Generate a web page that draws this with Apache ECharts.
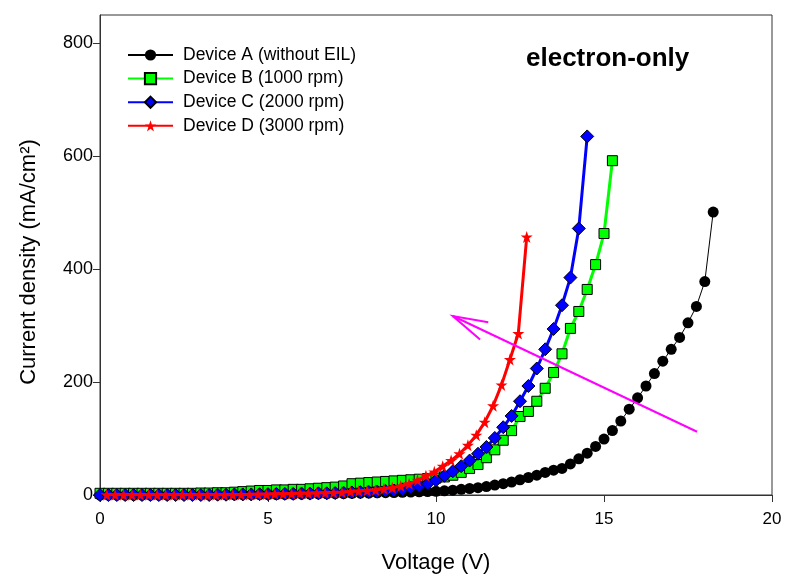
<!DOCTYPE html>
<html>
<head>
<meta charset="utf-8">
<script src="https://cdn.jsdelivr.net/npm/echarts@6/dist/echarts.min.js"></script>
<style>
html,body{margin:0;padding:0;background:#fff;}
#chart{width:785px;height:579px;}
</style>
</head>
<body>
<div id="chart"></div>
<script>
// ---------- data ----------
const seriesNames = ['Device A (without EIL)', 'Device B (1000 rpm)', 'Device C (2000 rpm)', 'Device D (3000 rpm)'];

const voltsA = [0,0.25,0.5,0.75,1,1.25,1.5,1.75,2,2.25,2.5,2.75,3,3.25,3.5,3.75,4,
  4.25,4.5,4.75,5,5.25,5.5,5.75,6,6.25,6.5,6.75,7,7.25,7.5,7.75,8,
  8.25,8.5,8.75,9,9.25,9.5,9.75,10,
  10.25,10.5,10.75,11,11.25,11.5,11.75,12,
  12.25,12.5,12.75,13,13.25,13.5,13.75,
  14,14.25,14.5,14.75,15,15.25,15.5,15.75,16,16.25,16.5,16.75,17,17.25,17.5,17.75,18,18.25];
const currentA = [0,0,0,0,0,0,0,0,0,0.1,0.1,0.1,0.2,0.2,0.3,0.3,0.4,
  0.5,0.6,0.7,0.8,0.9,1.0,1.2,1.4,1.6,1.8,2.0,2.3,2.6,2.9,3.2,3.5,
  3.8,4.1,4.4,4.8,5.2,5.6,6.0,6.5,
  7.5,8.5,10,11.5,13,15,17.5,20,
  23,27,31,35,40,44,47,
  55,64,74,86,99,114,131,152,172,193,215,237,258,279,305,334,378,501];

const voltsB = [0,0.25,0.5,0.75,1,1.25,1.5,1.75,2,2.25,2.5,2.75,3,3.25,3.5,3.75,
  4,4.25,4.5,4.75,5,5.25,5.5,5.75,6,6.25,6.5,6.75,7,7.25,
  7.5,7.75,8,8.25,8.5,8.75,9,9.25,9.5,9.75,10,
  10.25,10.5,10.75,11,11.25,11.5,11.75,12,12.25,12.5,12.75,13,13.25,13.5,13.75,14,14.25,14.5,14.75,15,15.25];
const currentB = [3,3,3,3,3,3,3,3,3,3,3,3,3.5,3.5,4,4,
  5,6,7,8,8,9,9,10,10,11,12,13,14,16,
  20,21,22,23,24,25,26,27,28,29,30,
  32,35,40,47,54,66,80,97,114,139,148,166,189,217,250,295,325,364,408,463,592];

const voltsC = [0,0.25,0.5,0.75,1,1.25,1.5,1.75,2,2.25,2.5,2.75,3,3.25,3.5,3.75,4,
  4.25,4.5,4.75,5,5.25,5.5,5.75,6,6.25,6.5,6.75,7,7.25,7.5,7.75,8,8.25,8.5,8.75,
  9,9.25,9.5,9.75,10,10.25,10.5,10.75,11,11.25,11.5,11.75,12,12.25,12.5,12.75,13,13.25,13.5,13.75,14,14.25,14.5];
const currentC = [0,0,0,0,0,0,0,0,0,0,0,0,0,0,0.5,0.5,1,
  1,1,1.5,1.5,2,2,2,2.5,2.5,3,3,3.5,4,4.5,5,5.5,6,7,8,
  10,13,16,20,26,34,42,51,61,73,85,101,120,140,166,193,224,258,294,336,385,472,635];

const voltsD = [0.2,0.45,0.7,0.95,1.2,1.45,1.7,1.95,2.2,2.45,2.7,2.95,3.2,3.45,3.7,3.95,
  4.2,4.45,4.7,4.95,5.2,5.45,5.7,5.95,6.2,6.45,6.7,6.95,7.2,7.45,7.7,7.95,
  8.2,8.45,8.7,8.95,9.2,9.45,9.7,9.95,10.2,10.45,10.7,10.95,11.2,11.45,11.7,11.95,12.2,12.45,12.7];
const currentD = [0.5,0.5,0.5,0.5,0.5,0.5,0.5,0.5,0.5,0.5,0.5,0.5,0.5,0.5,0.5,0.5,
  1,1,1.5,1.5,2,2,2.5,3,3,3.5,4,4.5,5,6,7,8,
  9,11,13,16,20,26,34,41,51,61,73,88,106,129,158,195,240,286,457];

const xTicks = [0, 5, 10, 15, 20];
const yTicks = [0, 200, 400, 600, 800];

// magenta annotation arrow (data coords): tail -> head
const arrowTail = [17.77, 112];
const arrowHead = [10.5, 317];

// ---------- chart ----------
const FONT = 'Liberation Sans';
const zip = (xs, ys) => xs.map((x, i) => [x, ys[i]]);
const starPath = 'path://M50,0 L61.8,35.3 L99,35.3 L69,57.5 L80.3,93 L50,71.5 L19.7,93 L31,57.5 L1,35.3 L38.2,35.3 Z';

const chart = echarts.init(document.getElementById('chart'), null, {renderer: 'canvas'});

const option = {
  animation: false,
  backgroundColor: '#ffffff',
  textStyle: {fontFamily: FONT},
  title: {
    text: 'electron-only',
    left: 521, top: 41,
    textStyle: {fontFamily: FONT, fontSize: 26, fontWeight: 'bold', color: '#000'}
  },
  grid: {left: 100, right: 13, top: 15, bottom: 79, show: true, borderColor: '#333', borderWidth: 1, backgroundColor: 'transparent'},
  legend: {
    data: seriesNames,
    orient: 'vertical',
    left: 127, top: 45,
    itemWidth: 45, itemHeight: 14, itemGap: 3.6,
    padding: 0,
    textStyle: {fontFamily: FONT, fontSize: 17.5, color: '#000', lineHeight: 20, padding: [0, 0, 0, 5]}
  },
  xAxis: {
    type: 'value', min: 0, max: 20, interval: 5,
    name: 'Voltage (V)', nameLocation: 'middle', nameGap: 57,
    nameTextStyle: {fontFamily: FONT, fontSize: 22, color: '#000'},
    axisLine: {show: true, onZero: false, lineStyle: {color: '#333', width: 1}},
    axisTick: {show: true, inside: false, length: 7, lineStyle: {color: '#333'}, customValues: xTicks},
    axisLabel: {fontFamily: FONT, fontSize: 17, color: '#000', margin: 16, customValues: xTicks},
    splitLine: {show: false}
  },
  yAxis: {
    type: 'value', min: 0, max: 850,
    name: 'Current density (mA/cm\u00B2)', nameLocation: 'middle', nameGap: 60, nameRotate: 90,
    nameTextStyle: {fontFamily: FONT, fontSize: 22, color: '#000', padding: [0, 14, 0, 0]},
    axisLine: {show: true, onZero: false, lineStyle: {color: '#333', width: 1}},
    axisTick: {show: true, inside: false, length: 7, lineStyle: {color: '#333'}, customValues: yTicks},
    axisLabel: {fontFamily: FONT, fontSize: 18, color: '#000', margin: 7, customValues: yTicks},
    splitLine: {show: false}
  },
  series: [
    {
      name: seriesNames[0], type: 'line', data: zip(voltsA, currentA),
      symbol: 'circle', symbolSize: 11, showAllSymbol: true,
      lineStyle: {color: '#000', width: 1},
      itemStyle: {color: '#000', borderColor: '#000', borderWidth: 0},
      z: 2
    },
    {
      name: seriesNames[1], type: 'line', data: zip(voltsB, currentB),
      symbol: 'rect', symbolSize: 10, showAllSymbol: true,
      lineStyle: {color: '#00ff00', width: 3},
      itemStyle: {color: '#00ff00', borderColor: '#000', borderWidth: 1},
      z: 3
    },
    {
      name: seriesNames[2], type: 'line', data: zip(voltsC, currentC),
      symbol: 'diamond', symbolSize: 13, showAllSymbol: true,
      lineStyle: {color: '#0000ff', width: 3},
      itemStyle: {color: '#0000ff', borderColor: '#000', borderWidth: 1},
      z: 4
    },
    {
      name: seriesNames[3], type: 'line', data: zip(voltsD, currentD),
      symbol: starPath, symbolSize: 12, showAllSymbol: true,
      lineStyle: {color: '#ff0000', width: 3},
      itemStyle: {color: '#ff0000', borderWidth: 0},
      z: 5
    },
    {
      name: 'arrow', type: 'custom', silent: true, z: 6,
      data: [[arrowTail[0], arrowTail[1], arrowHead[0], arrowHead[1]]],
      encode: {x: [0, 2], y: [1, 3]},
      renderItem: function (params, api) {
        const p1 = api.coord([api.value(0), api.value(1)]);
        const p2 = api.coord([api.value(2), api.value(3)]);
        const ang = Math.atan2(p1[1] - p2[1], p1[0] - p2[0]);
        const L = 36, spread = 0.27;
        const a1 = [p2[0] + L * Math.cos(ang - spread), p2[1] + L * Math.sin(ang - spread)];
        const a2 = [p2[0] + L * Math.cos(ang + spread), p2[1] + L * Math.sin(ang + spread)];
        const st = {stroke: '#ff00ff', lineWidth: 2, fill: null};
        return {
          type: 'group',
          children: [
            {type: 'line', shape: {x1: p1[0], y1: p1[1], x2: p2[0], y2: p2[1]}, style: st},
            {type: 'polyline', shape: {points: [a1, p2, a2]}, style: st}
          ]
        };
      }
    }
  ]
};
chart.setOption(option);
</script>
</body>
</html>
